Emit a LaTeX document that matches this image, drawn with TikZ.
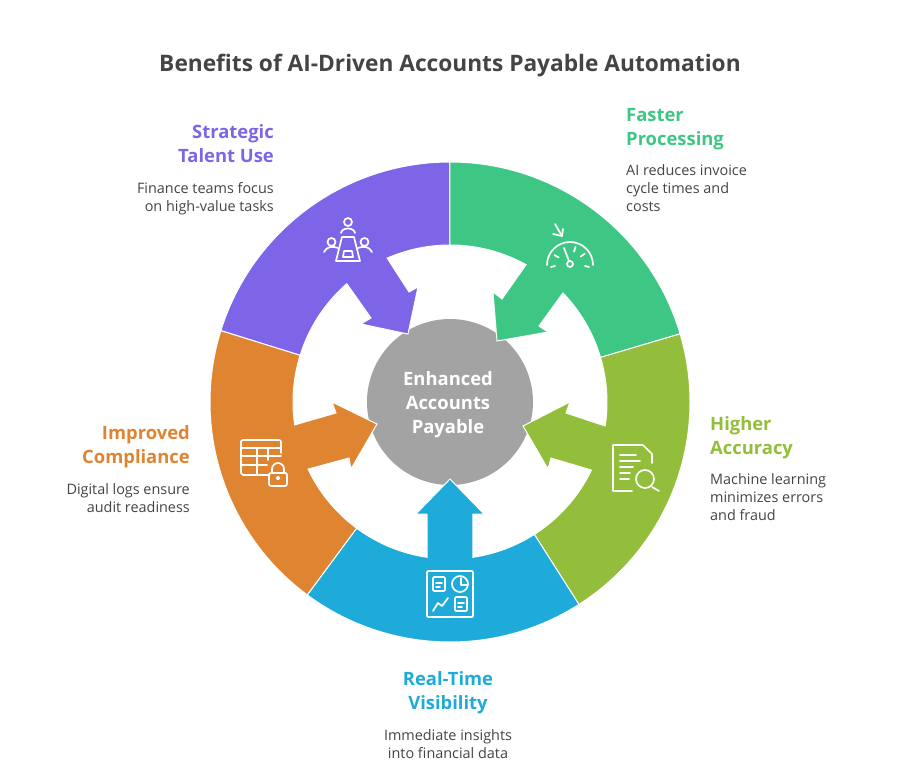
\documentclass[tikz,border=0pt]{standalone}
\usepackage{fontspec}
\setmainfont{Open Sans}
\definecolor{TalentPurple}{RGB}{126,101,232}
\definecolor{FasterGreen}{RGB}{62,199,132}
\definecolor{AccuracyLime}{RGB}{147,190,59}
\definecolor{VisibleBlue}{RGB}{30,171,218}
\definecolor{ComplyOrange}{RGB}{223,132,49}
\definecolor{HubGray}{RGB}{163,163,163}
\definecolor{BodyText}{RGB}{68,68,68}
\usetikzlibrary{positioning}

\begin{document}
\begin{tikzpicture}[x=1pt,y=1pt,
    seg/.style={fill=#1,draw=white,line width=1pt,line join=miter},
    icon/.style={draw=white,line width=1.7pt,line cap=round,line join=round},
    head/.style={font=\fontsize{18.4}{24}\selectfont\bfseries,inner sep=0pt,text=#1},
    body/.style={font=\fontsize{14.4}{18}\selectfont,inner sep=0pt,text=BodyText}]
    \useasboundingbox (-450,-364) rectangle (450,402);

    \node[font=\fontsize{22.7}{28}\selectfont\bfseries,text=BodyText,inner sep=0pt] (title) at (0,336)
        {Benefits of AI-Driven Accounts Payable Automation};

    % hub goes under the arrow tips
    \fill[HubGray] (0,0) circle (83);
    \node[font=\fontsize{18.4}{24}\selectfont\bfseries,text=white,align=center,inner sep=0pt] (hub) at (-2,-3)
        {Enhanced\\Accounts\\Payable};

    % ring segments with their arrows
    \draw[seg=TalentPurple] (90:240) arc[start angle=90,end angle=162.7,radius=240]
        -- (162.7:157) arc[start angle=162.7,end angle=131.1,radius=157]
        -- (-79,84) -- (-89,78) -- (-42,68) -- (-32,115) -- (-41,110)
        -- (113.6:157) arc[start angle=113.6,end angle=90,radius=157] -- cycle;
    \draw[seg=FasterGreen] (90:240) arc[start angle=90,end angle=16.5,radius=240]
        -- (16.5:157) arc[start angle=16.5,end angle=44,radius=157]
        -- (89,76) -- (98,70) -- (47,61) -- (43,110) -- (52,103)
        -- (61:157) arc[start angle=61,end angle=90,radius=157] -- cycle;
    \draw[seg=AccuracyLime] (16.5:240) arc[start angle=16.5,end angle=-57.5,radius=240]
        -- (-57.5:157) arc[start angle=-57.5,end angle=-25.7,radius=157]
        -- (101,-56) -- (98,-67) -- (73,-24) -- (120,0) -- (116,-11)
        -- (-8.8:157) arc[start angle=-8.8,end angle=16.5,radius=157] -- cycle;
    \draw[seg=VisibleBlue] (-57.5:240) arc[start angle=-57.5,end angle=-126.5,radius=240]
        -- (-126.5:157) arc[start angle=-126.5,end angle=-98.4,radius=157]
        -- (-23,-112) -- (-34,-112) -- (0,-77) -- (34,-112) -- (23,-112)
        -- (-81.6:157) arc[start angle=-81.6,end angle=-57.5,radius=157] -- cycle;
    \draw[seg=ComplyOrange] (-126.5:240) arc[start angle=-126.5,end angle=-197.3,radius=240]
        -- (-197.3:157) arc[start angle=-197.3,end angle=-171.6,radius=157]
        -- (-114,-11) -- (-118,0) -- (-73,-22) -- (-99,-67) -- (-101,-56)
        -- (-154.7:157) arc[start angle=-154.7,end angle=-126.5,radius=157] -- cycle;

    % meeting icon
    \begin{scope}[shift={(-102,160)},icon]
        \draw (0,20) circle (4);
        \draw (-7,9) .. controls (-6,15) and (6,15) .. (7,9);
        \draw (-6,5) -- (6,5) -- (12,-19) -- (-12,-19) -- cycle;
        \draw (-4,-9) -- (4,-9) -- (5,-15) -- (-5,-15) -- cycle;
        \draw (-16.5,0) circle (4); \draw (16.5,0) circle (4);
        \draw (-24,-10) .. controls (-21,-4) and (-15,-4) .. (-10,-6);
        \draw (24,-10) .. controls (21,-4) and (15,-4) .. (10,-6);
    \end{scope}

    % gauge icon
    \begin{scope}[shift={(120,138)},icon]
        \draw (-23,-1) arc[start angle=180,end angle=0,radius=23];
        \draw (0,0) circle (3);
        \draw (-1,3) -- (-6,16);
        \foreach \a in {35,72,150} \draw (\a:13) -- (\a:18);
        \draw (-15,40) -- (-8,28);
        \draw (-17,30) -- (-8,28) -- (-7,35);
        \draw (-19,-3) -- (-15,-2); \draw (19,-3) -- (15,-2);
    \end{scope}

    % document and lens icon
    \begin{scope}[shift={(163,-77)},icon]
        \draw (19,-12) -- (0,-12) -- (0,34) -- (30,34) -- (39,25) -- (39,16);
        \draw (7,24) -- (23,24); \draw (7,18) -- (27,18); \draw (7,12) -- (20,12);
        \draw (7,6) -- (17,6); \draw (7,0) -- (16,0);
        \draw (32,0) circle (9);
        \draw (39,-8) -- (46,-12);
    \end{scope}

    % dashboard icon
    \begin{scope}[shift={(-23,-215)},icon]
        \draw[rounded corners=1pt] (0,46) rectangle (46,0);
        \draw[rounded corners=1pt] (6,40) rectangle (18,26);
        \draw (9,34) -- (15,34); \draw (9,30) -- (13,30);
        \draw (33,33) circle (8);
        \draw (34,39) -- (34,32) -- (40,32);
        \draw[rounded corners=1pt] (28,20) rectangle (40,6);
        \draw (31,14) -- (37,14); \draw (31,10) -- (35,10);
        \draw (6,6) -- (11,14) -- (15,11) -- (21,19);
    \end{scope}

    % table and lock icon
    \begin{scope}[shift={(-209,-73)},icon]
        \draw (27,0) -- (2,0) -- (0,2) -- (0,33) [rounded corners=2pt] -- (0,35) -- (40,35) -- (40,22);
        \draw (0,27) -- (40,27); \draw (0,19) -- (40,19); \draw (0,10) -- (26,10);
        \draw (16,27) -- (16,0); \draw (27,27) -- (27,15);
        \draw[rounded corners=2pt] (28,-11) rectangle (46,2);
        \draw (31,2) -- (31,6) arc[start angle=180,end angle=0,radius=6] -- (43,2);
        \draw (37,-3) circle (1.5);
    \end{scope}

    % labels
    \node[head=TalentPurple,align=right,anchor=east] (talent) at (-176,258) {Strategic\\Talent Use};
    \node[body,align=right,anchor=east] (talenttxt) at (-176,203) {Finance teams focus\\on high-value tasks};

    \node[head=FasterGreen,align=left,anchor=west] (faster) at (176,273) {Faster\\Processing};
    \node[body,align=left,anchor=west] (fastertxt) at (176,214) {AI reduces invoice\\cycle times and\\costs};

    \node[head=AccuracyLime,align=left,anchor=west] (accuracy) at (260,-36) {Higher\\Accuracy};
    \node[body,align=left,anchor=west] (accuracytxt) at (260,-95) {Machine learning\\minimizes errors\\and fraud};

    \node[head=VisibleBlue,align=center] (visible) at (-2,-291) {Real-Time\\Visibility};
    \node[body,align=center] (visibletxt) at (-2,-342) {Immediate insights\\into financial data};

    \node[head=ComplyOrange,align=right,anchor=east] (comply) at (-260,-45) {Improved\\Compliance};
    \node[body,align=right,anchor=east] (complytxt) at (-260,-96) {Digital logs ensure\\audit readiness};
\end{tikzpicture}
\end{document}
